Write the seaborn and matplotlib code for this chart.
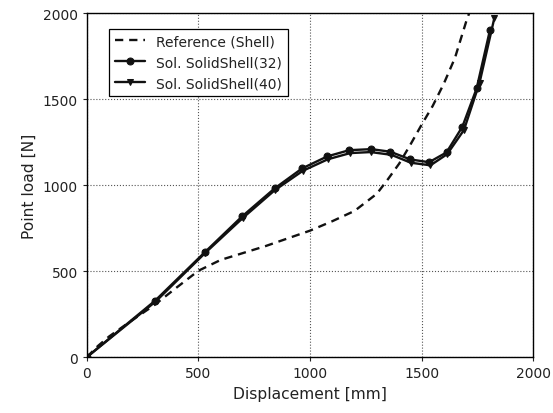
import numpy as np
import pandas as pd
import seaborn as sns
from matplotlib import pyplot as plt

# reference shell solution (dashed)
ref_disp = [0, 50, 100, 200, 300, 400, 500, 600, 700, 800, 900, 1000, 1100, 1200, 1300, 1350, 1400, 1450, 1500, 1550, 1600, 1650, 1700, 1730]
ref_load = [0, 65, 120, 212, 300, 402, 502, 565, 605, 645, 690, 735, 790, 850, 950, 1035, 1125, 1235, 1350, 1460, 1590, 1740, 1950, 2060]

# solid shell, 32 elements
s32_disp = [0, 306, 529, 696, 842, 965, 1078, 1176, 1275, 1360, 1450, 1534, 1612, 1683, 1747, 1807]
s32_load = [0, 328, 610, 818, 981, 1097, 1167, 1203, 1209, 1194, 1149, 1133, 1190, 1339, 1562, 1903]

# solid shell, 40 elements
s40_disp = [0, 310, 530, 700, 842, 968, 1080, 1180, 1272, 1365, 1452, 1540, 1615, 1690, 1760, 1826]
s40_load = [0, 325, 605, 810, 970, 1083, 1150, 1186, 1192, 1176, 1130, 1115, 1180, 1320, 1595, 1969]

sns.set_style("ticks")
plt.rcParams["font.family"] = ["DejaVu Sans"]

fig = plt.figure(figsize=(5.53, 4.14), dpi=100)
ax = fig.add_axes([0.157, 0.135, 0.807, 0.831])

kw = dict(color="#111111", linewidth=1.7, sort=False, estimator=None, ax=ax)
sns.lineplot(x=ref_disp, y=ref_load, linestyle=(0, (3.5, 2.5)), label="Reference (Shell)", **kw)
sns.lineplot(x=s32_disp, y=s32_load, marker="o", markersize=5, markeredgecolor="#111111",
             label="Sol. SolidShell(32)", **kw)
sns.lineplot(x=s40_disp, y=s40_load, marker="v", markersize=5, markeredgecolor="#111111",
             label="Sol. SolidShell(40)", **kw)

ax.set_xlim(0, 2000)
ax.set_ylim(0, 2000)
ax.set_xticks([0, 500, 1000, 1500, 2000])
ax.set_yticks([0, 500, 1000, 1500, 2000])
ax.grid(True, linestyle=":", color="#555555", linewidth=0.8)
for s in ax.spines.values():
    s.set_color("black")
    s.set_linewidth(1.0)
ax.tick_params(labelsize=10, length=3, colors="#222222")
ax.set_xlabel("Displacement [mm]", fontsize=11.2, color="#222222")
ax.set_ylabel("Point load [N]", fontsize=11.2, color="#222222")

leg = ax.legend(loc="upper left", bbox_to_anchor=(0.05, 0.955), borderaxespad=0,
                fancybox=False, edgecolor="black", framealpha=1, fontsize=10,
                handlelength=2.2)
leg.get_frame().set_linewidth(0.9)
for t in leg.get_texts():
    t.set_color("#222222")

fig.savefig("out.png", dpi=100)
